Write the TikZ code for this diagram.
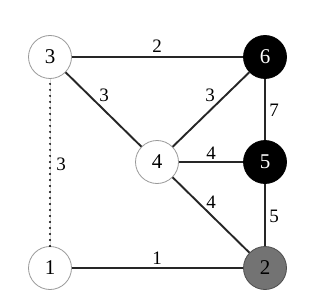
\documentclass[tikz,border=0pt]{standalone}
\usepackage{fontspec}
\setmainfont{Liberation Serif}
\begin{document}
\begin{tikzpicture}[x=1pt,y=-1pt,
  vtx/.style={circle,minimum size=43pt,inner sep=0pt,draw=gray!80,line width=0.8pt,fill=white,font=\fontsize{21}{21}\selectfont},
  blk/.style={vtx,fill=black,draw=black,text=white},
  gry/.style={vtx,fill=black!55,draw=black!70,text=black},
  edge/.style={line width=1.9pt,draw=black!85},
  lbl/.style={font=\fontsize{19}{19}\selectfont,inner sep=0pt}]
\useasboundingbox (0,0) rectangle (312,307);
\node[vtx] (n3) at (50,57) {3};
\node[blk] (n6) at (265,57) {6};
\node[vtx] (n4) at (157,162) {4};
\node[blk] (n5) at (265,162) {5};
\node[vtx] (n1) at (50,268) {1};
\node[gry] (n2) at (265,268) {2};
\draw[edge] (n3) -- (n6);
\draw[edge] (n3) -- (n4);
\draw[edge] (n4) -- (n6);
\draw[edge] (n6) -- (n5);
\draw[edge] (n4) -- (n5);
\draw[edge] (n4) -- (n2);
\draw[edge] (n5) -- (n2);
\draw[edge] (n1) -- (n2);
\draw[line width=0.5pt,draw=gray!30] (n3) -- (n1);
\draw[line width=2.2pt,line cap=round,dash pattern=on 0pt off 6pt,draw=black] (n3.south) ++(0,5) -- ([yshift=-3pt]n1.north);
\node[lbl] (l36) at (157,46) {2};
\node[lbl] (l34) at (104,95) {3};
\node[lbl] (l46) at (210,95) {3};
\node[lbl] (l65) at (274,110) {7};
\node[lbl] (l45) at (211,153) {4};
\node[lbl] (l42) at (211,202) {4};
\node[lbl] (l52) at (274,216) {5};
\node[lbl] (l12) at (157,258) {1};
\node[lbl] (l31) at (61,164) {3};
\end{tikzpicture}
\end{document}
